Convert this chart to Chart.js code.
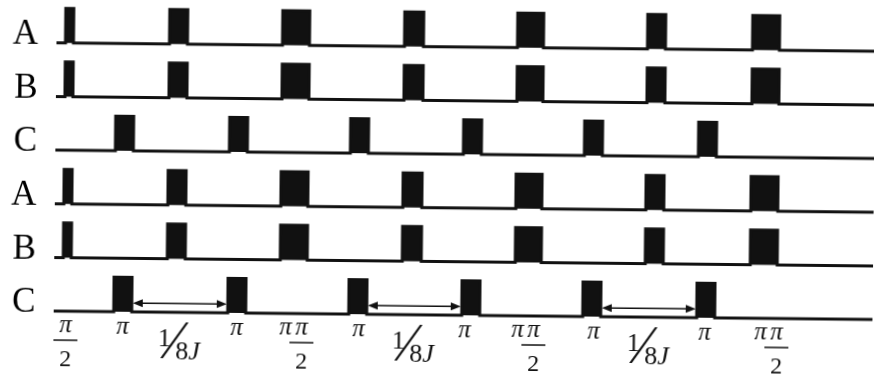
<!DOCTYPE html>
<html><head><meta charset="utf-8">
<script src="https://cdn.jsdelivr.net/npm/chart.js@4.4.1/dist/chart.umd.min.js"></script>
<style>
html,body{margin:0;padding:0;background:#fff;overflow:hidden}
#wrap{width:874px;height:376px;position:relative;transform:rotate(0.59deg);transform-origin:437px 188px}
</style></head><body>
<div id="wrap"><canvas id="c"></canvas></div>
<script>
// ---- data (x in time units along the sequence) ----
const rowLabels = ['A', 'B', 'C', 'A', 'B', 'C'];
const pulsesA = [[64, 72], [168, 186], [281, 308], [403, 422], [516, 542], [646, 664], [751, 778]];
const pulsesB = [[64, 72], [168, 186], [281, 308], [403, 422], [516, 542], [646, 664], [751, 778]];
const pulsesC = [[115, 133], [229, 247], [350, 368], [463, 481], [584, 602], [698, 716]];
const rowPulses = [pulsesA, pulsesB, pulsesC, pulsesA, pulsesB, pulsesC];
const pulseHeight = 0.645;
const lineStart = 55;
const lineEnd = 874;
const delayArrows = [[134, 228], [369, 462], [603, 697]];
const arrowLevel = 0.165;
const axisLabelX = [67, 124, 183, 238, 303, 360, 417, 466, 535, 595, 652, 706, 778];
const axisLabels = ['π/2', 'π', '1/8J', 'π', 'ππ/2', 'π', '1/8J', 'π', 'ππ/2', 'π', '1/8J', 'π', 'ππ/2'];

const INK = '#111';
const SERIF = '"Liberation Serif", "Times New Roman", serif';

const datasets = rowPulses.map((pulses, k) => {
  const base = rowLabels.length - 1 - k;
  const pts = [{x: lineStart, y: base}];
  pulses.forEach(([s, e]) => { pts.push({x: s, y: base + pulseHeight}, {x: e, y: base}); });
  pts.push({x: lineEnd, y: base});
  return {
    label: rowLabels[k], data: pts, stepped: true,
    borderColor: INK, backgroundColor: INK, borderWidth: 3,
    borderJoinStyle: 'miter', borderCapStyle: 'butt',
    pointRadius: 0, pointHoverRadius: 0, fill: {value: base}
  };
});

const deco = {
  id: 'deco',
  afterDatasetsDraw(chart) {
    const {ctx, scales: {x, y}} = chart;
    ctx.save();
    ctx.fillStyle = INK; ctx.strokeStyle = INK;
    const by = y.getPixelForValue(0);
    const ay = y.getPixelForValue(arrowLevel);
    const head = (tx, dir) => {
      ctx.beginPath();
      ctx.moveTo(tx, ay);
      ctx.lineTo(tx + dir * 10, ay - 4);
      ctx.lineTo(tx + dir * 10, ay + 4);
      ctx.closePath(); ctx.fill();
    };
    delayArrows.forEach(([a, b]) => {
      const xa = x.getPixelForValue(a), xb = x.getPixelForValue(b);
      ctx.lineWidth = 1.5;
      ctx.beginPath(); ctx.moveTo(xa + 6, ay); ctx.lineTo(xb - 6, ay); ctx.stroke();
      head(xa, 1); head(xb, -1);
    });
    ctx.textBaseline = 'alphabetic';
    const piAt = (cx, yb) => { ctx.font = 'italic 25px ' + SERIF; ctx.textAlign = 'center'; ctx.fillText('π', cx, yb); };
    const frac = (cx) => {
      piAt(cx, by + 21);
      ctx.lineWidth = 1.5;
      ctx.beginPath(); ctx.moveTo(cx - 12, by + 29); ctx.lineTo(cx + 12, by + 29); ctx.stroke();
      ctx.font = '24px ' + SERIF; ctx.textAlign = 'center'; ctx.fillText('2', cx, by + 55);
    };
    axisLabels.forEach((lab, i) => {
      const cx = x.getPixelForValue(axisLabelX[i]);
      if (lab === 'π') {
        piAt(cx, by + 22);
      } else if (lab === 'π/2') {
        frac(cx);
      } else if (lab === 'ππ/2') {
        piAt(cx - 16, by + 21);
        frac(cx);
      } else if (lab === '1/8J') {
        ctx.textAlign = 'center';
        ctx.font = '26px ' + SERIF; ctx.fillText('1', cx - 17, by + 34);
        ctx.font = '54px ' + SERIF; ctx.fillText('\u2044', cx - 7, by + 46);
        ctx.textAlign = 'left';
        ctx.font = '26px ' + SERIF; ctx.fillText('8', cx - 6, by + 47);
        const w8 = ctx.measureText('8').width;
        ctx.font = 'italic 26px ' + SERIF; ctx.fillText('J', cx - 6 + w8, by + 47);
      }
    });
    ctx.restore();
  }
};

new Chart(document.getElementById('c'), {
  type: 'line',
  data: {datasets},
  plugins: [deco],
  options: {
    responsive: true, maintainAspectRatio: false, animation: false,
    layout: {padding: 0, autoPadding: false},
    plugins: {legend: {display: false}, tooltip: {enabled: false}},
    events: [],
    scales: {
      x: {type: 'linear', min: 50, max: 874, display: false},
      y: {
        type: 'linear', min: -1.137, max: 5.873,
        grid: {display: false, drawTicks: false, tickLength: 0},
        border: {display: false},
        afterBuildTicks: s => { s.ticks = rowLabels.map((_, k) => ({value: rowLabels.length - 1 - k})); },
        afterFit: s => { s.width = 50; s.paddingTop = 0; s.paddingBottom = 0; },
        ticks: {
          padding: 13.5, labelOffset: -8, color: '#000',
          font: {family: SERIF, size: 35},
          callback: v => rowLabels[rowLabels.length - 1 - Math.round(v)]
        }
      }
    }
  }
});
</script>
</body></html>
